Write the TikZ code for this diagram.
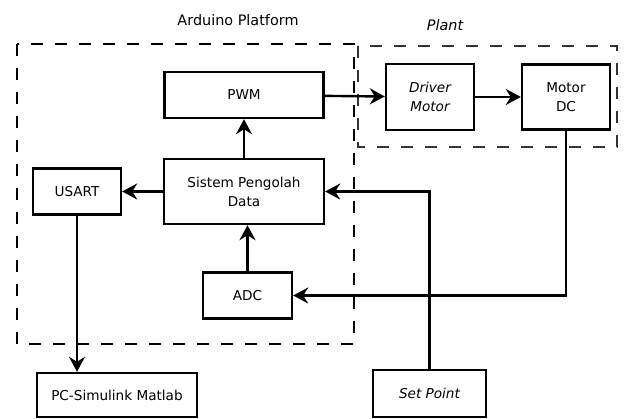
\documentclass[tikz,border=0pt]{standalone}
\usepackage{fontspec}
\setmainfont{DejaVu Sans}
\usetikzlibrary{positioning, arrows.meta}

\begin{document}
\begin{tikzpicture}[x=1pt, y=1pt, node distance=100pt, on grid,
    font=\fontsize{13.6}{19}\selectfont,
    block/.style={draw, line width=2.4pt, align=center, inner sep=2pt},
    frame/.style={line width=2.6pt, dash pattern=on 12pt off 12pt},
    link/.style={line width=2.4pt},
    >={Stealth[length=15pt, width=16pt, inset=5pt]}]
    \useasboundingbox (0,0) rectangle (626,418);

    % dashed groups
    \draw[frame] (17,374) rectangle (354,74);
    \draw[frame, black!80, line width=2.2pt] (358,372) rectangle (617,271);
    \node[font=\fontsize{14.4}{17}\selectfont] (arduino) at (238,398) {Arduino Platform};
    \node[font=\fontsize{14.4}{17}\selectfont\itshape] (plant) at (445,393) {Plant};

    % blocks
    \node[block, minimum width=160pt, minimum height=65pt] (sistem) at (244,226.5) {Sistem Pengolah\\Data};
    \node[block, minimum width=159pt, minimum height=46pt] (pwm) [above=96.5pt of sistem] {PWM};
    \node[block, minimum width=89pt, minimum height=46pt] (adc) [below right=104pt and 3.5pt of sistem] {ADC};
    \node[block, minimum width=88pt, minimum height=46pt] (usart) [left=167pt of sistem] {USART};
    \node[block, minimum width=88pt, minimum height=66pt] (driver) at (430,321) {\itshape Driver\\\itshape Motor};
    \node[block, minimum width=88pt, minimum height=65pt] (motor) [right=136pt of driver] {Motor\\DC};
    \node[block, minimum width=160pt, minimum height=44pt] (pc) at (117,23) {PC-Simulink Matlab};
    \node[block, minimum width=113pt, minimum height=47pt] (sp) at (429.5,24.5) {\itshape Set Point};

    % connections
    \draw[link, ->] (sistem) -- (pwm);
    \draw[link, ->] (pwm) -- (driver);
    \draw[link, ->] (driver) -- (motor);
    \draw[link, ->] (sistem) -- (usart);
    \draw[link, ->] (adc) -- (adc |- sistem.south);
    \draw[link, ->] (usart) -- (usart |- pc.north);
    \draw[link, ->] (motor) |- (adc);
    \draw[link, ->] (sp) |- (sistem);

\end{tikzpicture}
\end{document}
